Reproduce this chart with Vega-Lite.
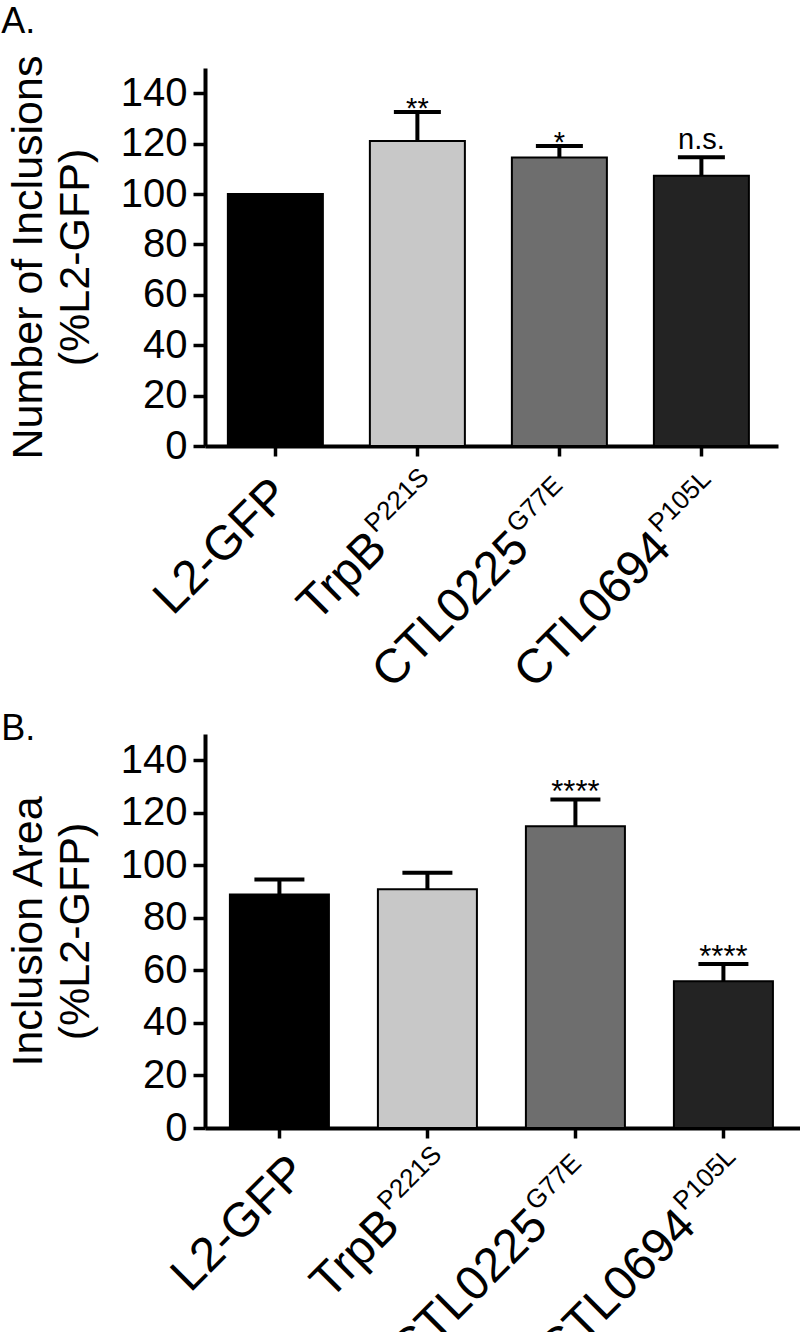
{
  "$schema": "https://vega.github.io/schema/vega-lite/v6.json",
  "padding": {"left": 1, "top": 4, "right": 0, "bottom": 0},
  "config": {
    "view": {"stroke": null},
    "font": "Liberation Sans",
    "axis": {"domainColor": "black", "tickColor": "black", "labelColor": "black", "titleColor": "black", "grid": false, "labelFont": "Liberation Sans", "titleFont": "Liberation Sans"},
    "title": {"font": "Liberation Sans", "fontWeight": "normal", "color": "black"}
  },
  "spacing": 13,
  "vconcat": [
    {
      "title": {"text": "A.", "anchor": "start", "frame": "bounds", "fontSize": 36, "offset": 14, "dx": -6},
      "width": 573,
      "height": 378,
      "data": {"values": [
        {"strain": "L2-GFP", "main": "L2-GFP", "sup": "", "value": 100, "err": null, "sig": ""},
        {"strain": "TrpB P221S", "main": "TrpB", "sup": "P221S", "value": 121, "err": 132.5, "sig": "**"},
        {"strain": "CTL0225 G77E", "main": "CTL0225", "sup": "G77E", "value": 114.5, "err": 119, "sig": "*"},
        {"strain": "CTL0694 P105L", "main": "CTL0694", "sup": "P105L", "value": 107.2, "err": 114.6, "sig": "n.s."}
      ]},
      "encoding": {
        "x": {"field": "strain", "type": "nominal", "sort": null,
          "scale": {"paddingInner": 0.331, "paddingOuter": 0.183, "align": 0.44, "round": false},
          "axis": {"labels": false, "title": null, "domainWidth": 4, "tickWidth": 3.5, "tickSize": 10}}
      },
      "layer": [
        {
          "mark": {"type": "bar", "stroke": "black", "strokeWidth": 2},
          "encoding": {
            "y": {"field": "value", "type": "quantitative",
              "scale": {"domain": [0, 150], "nice": false},
              "axis": {"values": [0, 20, 40, 60, 80, 100, 120, 140], "tickSize": 12, "tickWidth": 3.5, "domainWidth": 4, "labelFontSize": 40, "labelPadding": 6, "title": ["Number of Inclusions", "(%L2-GFP)"], "titleFontSize": 43, "titleFontWeight": "normal", "titleLineHeight": 47, "titlePadding": 23}},
            "color": {"field": "strain", "type": "nominal", "sort": null, "legend": null,
              "scale": {"domain": ["L2-GFP", "TrpB P221S", "CTL0225 G77E", "CTL0694 P105L"], "range": ["#000000", "#c8c8c8", "#6e6e6e", "#232323"]}}
          }
        },
        {
          "transform": [{"filter": "isValid(datum.err)"}],
          "mark": {"type": "rule", "strokeWidth": 4, "color": "black"},
          "encoding": {"y": {"field": "value", "type": "quantitative"}, "y2": {"field": "err"}}
        },
        {
          "transform": [{"filter": "isValid(datum.err)"}],
          "mark": {"type": "tick", "thickness": 4, "size": 47, "color": "black", "opacity": 1},
          "encoding": {"y": {"field": "err", "type": "quantitative"}}
        },
        {
          "transform": [{"filter": "datum.sig != '' && datum.sig != 'n.s.'"}],
          "mark": {"type": "text", "fontSize": 29, "color": "black", "baseline": "alphabetic", "dy": 6},
          "encoding": {"y": {"field": "err", "type": "quantitative"}, "text": {"field": "sig"}}
        },
        {
          "transform": [{"filter": "datum.sig == 'n.s.'"}],
          "mark": {"type": "text", "fontSize": 29, "color": "black", "baseline": "alphabetic", "dy": -8},
          "encoding": {"y": {"field": "err", "type": "quantitative"}, "text": {"field": "sig"}}
        },
        {
          "transform": [{"filter": "datum.sup == ''"}],
          "mark": {"type": "text", "fontSize": 48, "color": "black", "angle": -45, "align": "right", "baseline": "alphabetic", "dx": -25, "dy": 48},
          "encoding": {"y": {"datum": 0, "type": "quantitative"}, "text": {"field": "main"}}
        },
        {
          "transform": [{"filter": "datum.sup != ''"}],
          "mark": {"type": "text", "fontSize": 48, "color": "black", "angle": -45, "align": "right", "baseline": "alphabetic", "dx": -94, "dy": 54},
          "encoding": {"y": {"datum": 0, "type": "quantitative"}, "text": {"field": "main"}}
        },
        {
          "transform": [{"filter": "datum.sup != ''"}],
          "mark": {"type": "text", "fontSize": 26, "color": "black", "angle": -45, "align": "left", "baseline": "alphabetic", "dx": -92, "dy": 32},
          "encoding": {"y": {"datum": 0, "type": "quantitative"}, "text": {"field": "sup"}}
        }
      ]
    },
    {
      "title": {"text": "B.", "anchor": "start", "frame": "bounds", "fontSize": 36, "offset": -14, "dx": -6},
      "width": 596,
      "height": 394,
      "data": {"values": [
        {"strain": "L2-GFP", "main": "L2-GFP", "sup": "", "value": 88.9, "err": 94.6, "sig": ""},
        {"strain": "TrpB P221S", "main": "TrpB", "sup": "P221S", "value": 90.9, "err": 97.2, "sig": ""},
        {"strain": "CTL0225 G77E", "main": "CTL0225", "sup": "G77E", "value": 114.9, "err": 125.1, "sig": "****"},
        {"strain": "CTL0694 P105L", "main": "CTL0694", "sup": "P105L", "value": 55.9, "err": 62.4, "sig": "****"}
      ]},
      "encoding": {
        "x": {"field": "strain", "type": "nominal", "sort": null,
          "scale": {"paddingInner": 0.331, "paddingOuter": 0.179, "align": 0.47, "round": false},
          "axis": {"labels": false, "title": null, "domainWidth": 4, "tickWidth": 3.5, "tickSize": 10}}
      },
      "layer": [
        {
          "mark": {"type": "bar", "stroke": "black", "strokeWidth": 2},
          "encoding": {
            "y": {"field": "value", "type": "quantitative",
              "scale": {"domain": [0, 150], "nice": false},
              "axis": {"values": [0, 20, 40, 60, 80, 100, 120, 140], "tickSize": 12, "tickWidth": 3.5, "domainWidth": 4, "labelFontSize": 40, "labelPadding": 6, "title": ["Inclusion Area", "(%L2-GFP)"], "titleFontSize": 43, "titleFontWeight": "normal", "titleLineHeight": 47, "titlePadding": 23}},
            "color": {"field": "strain", "type": "nominal", "sort": null, "legend": null,
              "scale": {"domain": ["L2-GFP", "TrpB P221S", "CTL0225 G77E", "CTL0694 P105L"], "range": ["#000000", "#c8c8c8", "#6e6e6e", "#232323"]}}
          }
        },
        {
          "transform": [{"filter": "isValid(datum.err)"}],
          "mark": {"type": "rule", "strokeWidth": 4, "color": "black"},
          "encoding": {"y": {"field": "value", "type": "quantitative"}, "y2": {"field": "err"}}
        },
        {
          "transform": [{"filter": "isValid(datum.err)"}],
          "mark": {"type": "tick", "thickness": 4, "size": 50, "color": "black", "opacity": 1},
          "encoding": {"y": {"field": "err", "type": "quantitative"}}
        },
        {
          "transform": [{"filter": "datum.sig != '' && datum.sig != 'n.s.'"}],
          "mark": {"type": "text", "fontSize": 31, "color": "black", "baseline": "alphabetic", "dy": 3},
          "encoding": {"y": {"field": "err", "type": "quantitative"}, "text": {"field": "sig"}}
        },
        {
          "transform": [{"filter": "datum.sup == ''"}],
          "mark": {"type": "text", "fontSize": 48, "color": "black", "angle": -45, "align": "right", "baseline": "alphabetic", "dx": -12, "dy": 54},
          "encoding": {"y": {"datum": 0, "type": "quantitative"}, "text": {"field": "main"}}
        },
        {
          "transform": [{"filter": "datum.sup != ''"}],
          "mark": {"type": "text", "fontSize": 48, "color": "black", "angle": -45, "align": "right", "baseline": "alphabetic", "dx": -89, "dy": 53},
          "encoding": {"y": {"datum": 0, "type": "quantitative"}, "text": {"field": "main"}}
        },
        {
          "transform": [{"filter": "datum.sup != ''"}],
          "mark": {"type": "text", "fontSize": 26, "color": "black", "angle": -45, "align": "left", "baseline": "alphabetic", "dx": -87, "dy": 31},
          "encoding": {"y": {"datum": 0, "type": "quantitative"}, "text": {"field": "sup"}}
        }
      ]
    }
  ]
}
